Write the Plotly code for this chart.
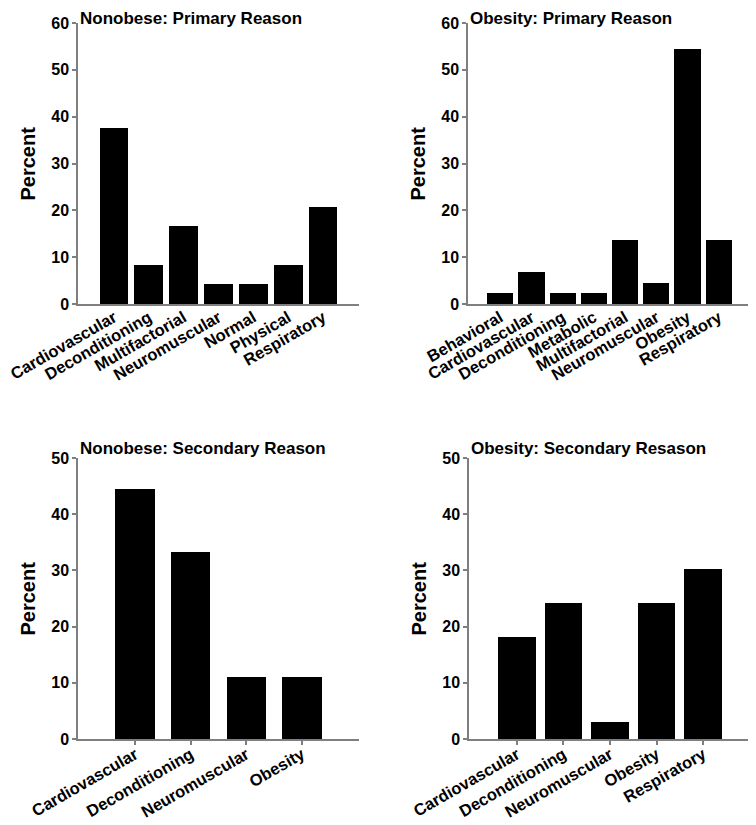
import plotly.graph_objects as go

# Data
nonobese_primary_cats = ["Cardiovascular", "Deconditioning", "Multifactorial", "Neuromuscular", "Normal", "Physical", "Respiratory"]
nonobese_primary_vals = [37.5, 8.3, 16.7, 4.2, 4.2, 8.3, 20.8]

obesity_primary_cats = ["Behavioral", "Cardiovascular", "Deconditioning", "Metabolic", "Multifactorial", "Neuromuscular", "Obesity", "Respiratory"]
obesity_primary_vals = [2.3, 6.8, 2.3, 2.3, 13.6, 4.5, 54.5, 13.6]

nonobese_secondary_cats = ["Cardiovascular", "Deconditioning", "Neuromuscular", "Obesity"]
nonobese_secondary_vals = [44.4, 33.3, 11.1, 11.1]

obesity_secondary_cats = ["Cardiovascular", "Deconditioning", "Neuromuscular", "Obesity", "Respiratory"]
obesity_secondary_vals = [18.2, 24.2, 3.0, 24.2, 30.3]

titles = ["Nonobese: Primary Reason", "Obesity: Primary Reason",
          "Nonobese: Secondary Reason", "Obesity: Secondary Resason"]

OFF = 8  # default page body margin
W, H = 756 - OFF, 825 - OFF
FONT = "Liberation Sans, Arial, sans-serif"

panels = [
    (nonobese_primary_cats, nonobese_primary_vals, (78, 359), (23, 304), 60, 0.82, False),
    (obesity_primary_cats, obesity_primary_vals, (468, 751), (23, 304), 60, 0.84, False),
    (nonobese_secondary_cats, nonobese_secondary_vals, (78, 359), (458, 739), 50, 0.71, True),
    (obesity_secondary_cats, obesity_secondary_vals, (469, 751), (458, 739), 50, 0.81, True),
]

def px(x):
    return (x - OFF) / W

def py(y):
    return 1 - (y - OFF) / H

fig = go.Figure()
annotations = []
for i, (cats, vals, (x0, x1), (yt, yb), ymax, bw, ticks) in enumerate(panels):
    n = i + 1
    xa = "x" if n == 1 else f"x{n}"
    ya = "y" if n == 1 else f"y{n}"
    fig.add_trace(go.Bar(x=cats, y=vals, xaxis=xa, yaxis=ya, width=bw,
                         marker=dict(color="black", line=dict(width=0)),
                         showlegend=False))
    xkey = "xaxis" if n == 1 else f"xaxis{n}"
    ykey = "yaxis" if n == 1 else f"yaxis{n}"
    fig.update_layout(**{
        xkey: dict(domain=[px(x0), min(1, px(x1))], anchor=ya, range=[-1.03, len(cats) - 1 + 1.03],
                   automargin=False,
                   showline=True, linecolor="#7f7f7f", linewidth=1.5,
                   ticks="outside" if ticks else "", ticklen=4, tickcolor="#7f7f7f", tickwidth=1.5,
                   ticklabelstandoff=-6 if ticks else -4,
                   tickangle=-30, showgrid=False, zeroline=False,
                   tickfont=dict(family=FONT, size=16.5, color="black", weight="bold")),
        ykey: dict(domain=[py(yb), py(yt)], anchor=xa, range=[0, ymax], dtick=10,
                   automargin=False,
                   showline=True, linecolor="#7f7f7f", linewidth=1.5,
                   ticks="outside", ticklen=4, tickcolor="#7f7f7f", tickwidth=1.5,
                   showgrid=False, zeroline=False,
                   tickfont=dict(family=FONT, size=16, color="black", weight="bold")),
    })
    if yt < 100:
        ty, tanchor = 1.0, "top"
    else:
        ty, tanchor = py(yt - 10), "middle"
    annotations.append(dict(text=f"<b>{titles[i]}</b>", xref="paper", yref="paper",
                            x=px(x0 + 1), y=ty, xanchor="left", yanchor=tanchor,
                            showarrow=False, borderpad=0,
                            font=dict(family=FONT, size=17, color="black")))
    annotations.append(dict(text="<b>Percent</b>", xref="paper", yref="paper",
                            x=px(x0 - 51), y=py((yt + yb) / 2), xanchor="center", yanchor="middle",
                            textangle=-90, showarrow=False,
                            font=dict(family=FONT, size=20, color="black")))

fig.update_layout(width=W, height=H, margin=dict(l=0, r=0, t=0, b=0),
                  plot_bgcolor="white", paper_bgcolor="white",
                  annotations=annotations, bargap=0)
fig.write_html("out.html")
